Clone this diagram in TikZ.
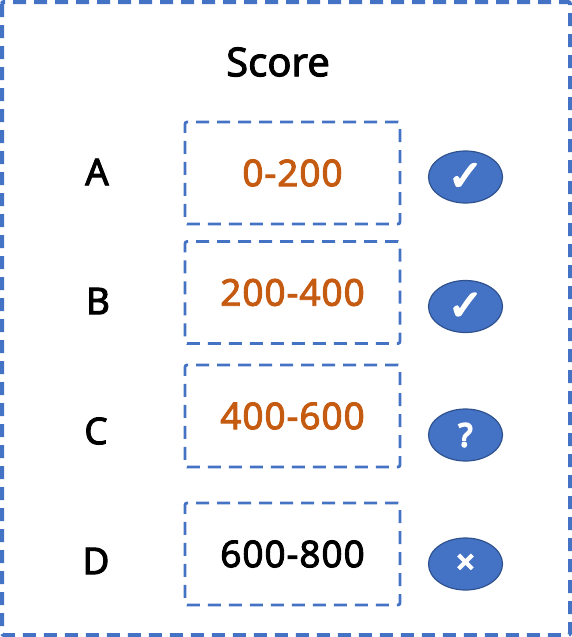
\documentclass[tikz,border=0pt]{standalone}
\usepackage{fontspec}
\setmainfont{Noto Sans}
\newfontfamily\rangefont{Noto Sans}[LetterSpace=2.5]
\newfontfamily\symfont{DejaVu Sans}
\newcommand{\heavytext}[1]{\special{pdf:code q 2 Tr 0.9 w}#1\special{pdf:code Q}}
\newcommand{\heavierglyph}[1]{\special{pdf:code q 2 Tr 1.8 w}#1\special{pdf:code Q}}
\definecolor{dashblue}{HTML}{4472C4}
\definecolor{rimblue}{HTML}{2F528F}
\definecolor{rangeorange}{HTML}{C55A11}
\usetikzlibrary{shapes.geometric}
\tikzset{
  x=1pt,y=-1pt,
  framebox/.style={draw=dashblue,line width=4pt,dash pattern=on 13pt off 8pt,rounded corners=2pt},
  rangebox/.style={draw=dashblue,line width=2.8pt,dash pattern=on 13pt off 8pt,rounded corners=2pt,minimum width=215pt,minimum height=102pt,inner sep=0pt,font=\rangefont\fontsize{37}{42}\selectfont},
  hot/.style={text=rangeorange},
  lettertext/.style={inner sep=0pt,font=\fontsize{37}{42}\selectfont},
  badge/.style={ellipse,fill=dashblue,draw=rimblue,line width=1.2pt,minimum width=74pt,minimum height=52pt,inner sep=0pt,text=white},
}
\begin{document}
\begin{tikzpicture}
\useasboundingbox (0,0) rectangle (572,637);
\draw[framebox] (2,2) rectangle (570,635);
\node[lettertext,font=\fontsize{40}{45}\selectfont] (title) at (278,62) {\heavytext{Score}};
\node[lettertext] (la) at (97,172) {\heavytext{A}};
\node[lettertext] (lb) at (98,301) {\heavytext{B}};
\node[lettertext] (lc) at (96,431) {\heavytext{C}};
\node[lettertext] (ld) at (96,561) {\heavytext{D}};
\node[rangebox,hot] (ra) at (292.5,173) {\heavytext{0-200}};
\node[rangebox,hot] (rb) at (292.5,292.5) {\heavytext{200-400}};
\node[rangebox,hot] (rc) at (292.5,416) {\heavytext{400-600}};
\node[rangebox] (rd) at (292.5,554) {\heavytext{600-800}};
\node[badge,font=\symfont\fontsize{42}{46}\selectfont] (ba) at (465.5,177) {\heavierglyph{✓}};
\node[badge,font=\symfont\fontsize{42}{46}\selectfont] (bb) at (465.5,306.5) {\heavierglyph{✓}};
\node[badge,font=\fontsize{32}{36}\selectfont] (bc) at (465.5,435) {\heavierglyph{?}};
\node[badge,font=\fontsize{32}{36}\selectfont] (bd) at (465.5,564) {\heavierglyph{×}};
\end{tikzpicture}
\end{document}
